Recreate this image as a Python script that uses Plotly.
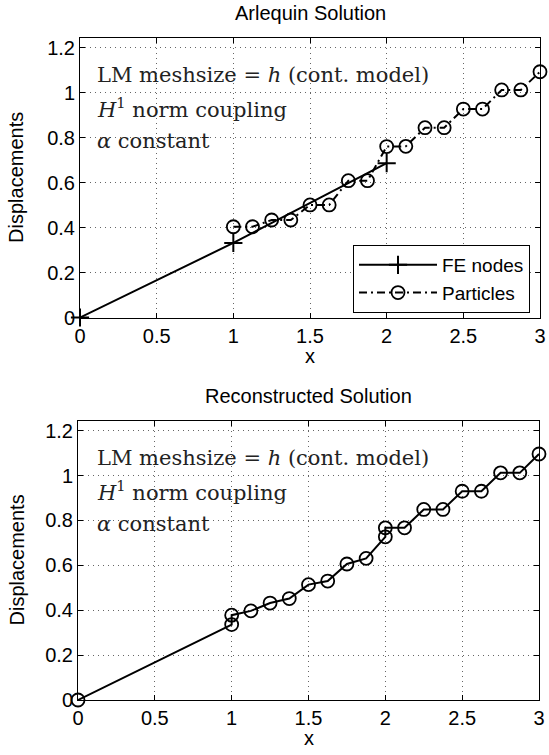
import plotly.graph_objects as go

W, H = 549, 755

# ---------------- data ----------------
fe_x = [0, 1, 2]
fe_y = [0, 0.332, 0.687]

part_x = [1, 1.125, 1.25, 1.375, 1.5, 1.625, 1.75, 1.875, 2,
          2.125, 2.25, 2.375, 2.5, 2.625, 2.75, 2.875, 3]
part_y = [0.404, 0.404, 0.434, 0.434, 0.501, 0.501, 0.609, 0.609, 0.761,
          0.762, 0.845, 0.845, 0.928, 0.928, 1.013, 1.013, 1.094]

rec_x = [0, 1, 1, 1.125, 1.25, 1.375, 1.5, 1.625, 1.75, 1.875, 2, 2,
         2.125, 2.25, 2.375, 2.5, 2.625, 2.75, 2.875, 3]
rec_y = [0, 0.336, 0.378, 0.397, 0.432, 0.452, 0.514, 0.530, 0.606, 0.631, 0.727, 0.767,
         0.767, 0.849, 0.849, 0.930, 0.930, 1.012, 1.012, 1.096]

x_ticks = [0, 0.5, 1, 1.5, 2, 2.5, 3]
y_ticks = [0, 0.2, 0.4, 0.6, 0.8, 1.0, 1.2]

titles = ["Arlequin Solution", "Reconstructed Solution"]
info_lines = ["LM meshsize = <i>h</i> (cont. model)",
              "<i>H</i><sup>1</sup> norm coupling",
              "<i>α</i> constant"]

# ---------------- layout geometry (pixels) ----------------
top_box = dict(x0=80, x1=540, y0=38.3, y1=317.5)
bot_box = dict(x0=78, x1=539, y0=421, y1=700)
Y_MAX = 1.243


def px_x(p):
    return p / W


def px_y(p):
    return 1 - p / H


fig = go.Figure()

fig.add_trace(go.Scatter(
    x=fe_x, y=fe_y, mode="lines+markers", name="FE nodes",
    line=dict(color="black", width=2), cliponaxis=False,
    marker=dict(symbol="cross-thin", size=13, line=dict(color="black", width=2)),
    xaxis="x", yaxis="y"))
fig.add_trace(go.Scatter(
    x=part_x, y=part_y, mode="lines+markers", name="Particles",
    line=dict(color="black", width=2, dash="8px,4px,2px,4px"), cliponaxis=False,
    marker=dict(symbol="circle-open", size=13, color="black",
                line=dict(color="black", width=1.8)),
    xaxis="x", yaxis="y"))
fig.add_trace(go.Scatter(
    x=rec_x, y=rec_y, mode="lines+markers", name="Reconstructed",
    showlegend=False, cliponaxis=False,
    line=dict(color="black", width=2),
    marker=dict(symbol="circle-open", size=13, color="black",
                line=dict(color="black", width=1.8)),
    xaxis="x2", yaxis="y2"))

SANS = "Liberation Sans, Arial, Helvetica, sans-serif"

axis_common = dict(
    showline=True, linecolor="black", linewidth=1, mirror="ticks",
    ticks="inside", ticklen=5, tickcolor="black", tickwidth=1,
    showgrid=True, gridcolor="#666666", gridwidth=1, griddash="1px,4px",
    zeroline=False,
    tickfont=dict(family=SANS, size=20, color="black"),
    ticklabeloverflow="allow",
)

fig.update_layout(
    width=W, height=H,
    margin=dict(l=0, r=0, t=0, b=0, autoexpand=False),
    paper_bgcolor="white", plot_bgcolor="white",
    showlegend=True,
    xaxis=dict(axis_common, range=[0, 3], tickvals=x_ticks,
               domain=[px_x(top_box["x0"]), px_x(top_box["x1"])], anchor="y"),
    yaxis=dict(axis_common, range=[0, Y_MAX], tickvals=y_ticks,
               domain=[px_y(top_box["y1"]), px_y(top_box["y0"])], anchor="x"),
    xaxis2=dict(axis_common, range=[0, 3], tickvals=x_ticks,
                domain=[px_x(bot_box["x0"]), px_x(bot_box["x1"])], anchor="y2"),
    yaxis2=dict(axis_common, range=[0, Y_MAX], tickvals=y_ticks,
                domain=[px_y(bot_box["y1"]), px_y(bot_box["y0"])], anchor="x2"),
    legend=dict(
        x=px_x(530), y=px_y(313), xanchor="right", yanchor="bottom",
        bgcolor="white", bordercolor="black", borderwidth=1,
        font=dict(family=SANS, size=19, color="black"),
        itemwidth=78, tracegroupgap=0,
    ),
)

sans = dict(family=SANS, size=20, color="black")
serif = dict(family="DejaVu Serif, serif", size=21, color="#222222")

anns = []
for box, title in [(top_box, titles[0]), (bot_box, titles[1])]:
    cx = (box["x0"] + box["x1"]) / 2
    anns.append(dict(text=title, x=px_x(cx), y=px_y(box["y0"] - 25),
                     xref="paper", yref="paper", showarrow=False,
                     xanchor="center", yanchor="middle", font=sans))
    anns.append(dict(text="x", x=px_x(cx), y=px_y(box["y1"] + 38),
                     xref="paper", yref="paper", showarrow=False,
                     xanchor="center", yanchor="middle", font=sans))
    anns.append(dict(text="Displacements", x=px_x(16),
                     y=px_y((box["y0"] + box["y1"]) / 2),
                     xref="paper", yref="paper", showarrow=False, textangle=-90,
                     xanchor="center", yanchor="middle", font=sans))
    for i, line in enumerate(info_lines):
        anns.append(dict(text=line, x=px_x(95), y=px_y(box["y0"] + 37 + 33 * i),
                         xref="paper", yref="paper", showarrow=False,
                         xanchor="left", yanchor="middle", font=serif))

fig.update_layout(annotations=anns)

fig.write_html("out.html",
               config={"displayModeBar": False},
               post_script="document.body.style.margin='0px';"
                           "document.body.style.overflow='hidden';")
